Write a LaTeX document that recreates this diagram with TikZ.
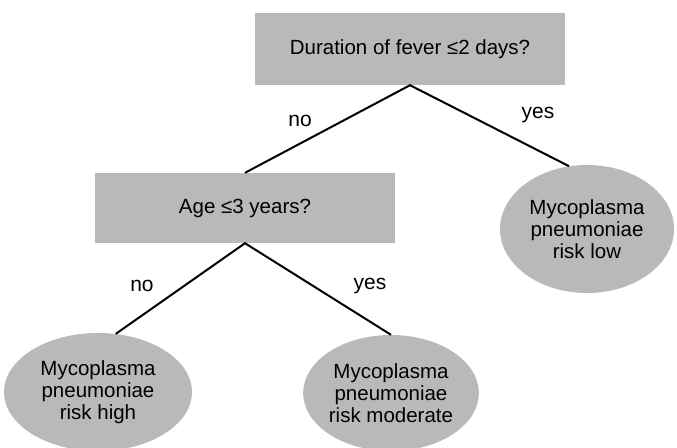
\documentclass[tikz,border=0pt]{standalone}
\usepackage{fontspec}
\setmainfont{Liberation Sans}
\usetikzlibrary{shapes.geometric}
\definecolor{boxgray}{RGB}{185,185,185}
\begin{document}
\begin{tikzpicture}[x=1pt,y=-1pt,
  question/.style={rectangle,fill=boxgray,draw=none,inner sep=0pt,
    font=\fontsize{20.5}{22}\selectfont},
  outcome/.style={ellipse,fill=boxgray,draw=none,inner sep=0pt,align=center,
    font=\fontsize{20.5}{22}\selectfont},
  branch/.style={line width=2pt,black},
  answer/.style={inner sep=0pt,font=\fontsize{21}{22}\selectfont}]
  \useasboundingbox (0,0) rectangle (677,447);

  % decision boxes
  \node[question,minimum width=310pt,minimum height=72pt] (fever) at (410,49)
    {Duration of fever ≤2 days?};
  \node[question,minimum width=300pt,minimum height=70pt] (age) at (245,208)
    {Age ≤3 years?};

  % outcome ellipses
  \node[outcome,minimum width=174pt,minimum height=128pt] (low) at (587,229)
    {Mycoplasma\\pneumoniae\\risk low};
  \node[outcome,minimum width=188pt,minimum height=118pt] (high) at (98,392)
    {Mycoplasma\\pneumoniae\\risk high};
  \node[outcome,minimum width=162pt,minimum height=116pt] (moderate) at (391,393)
    {Mycoplasma\\pneumoniae\\risk moderate};

  % branches
  \draw[branch] (age.north) -- (fever.south) -- (low.106);
  \draw[branch] (high.73) -- (age.south) -- (moderate.north);

  % branch labels
  \node[answer] (no1) at (300,121) {no};
  \node[answer] (yes1) at (538,115) {yes};
  \node[answer] (no2) at (142,286) {no};
  \node[answer] (yes2) at (370,286) {yes};
\end{tikzpicture}
\end{document}
